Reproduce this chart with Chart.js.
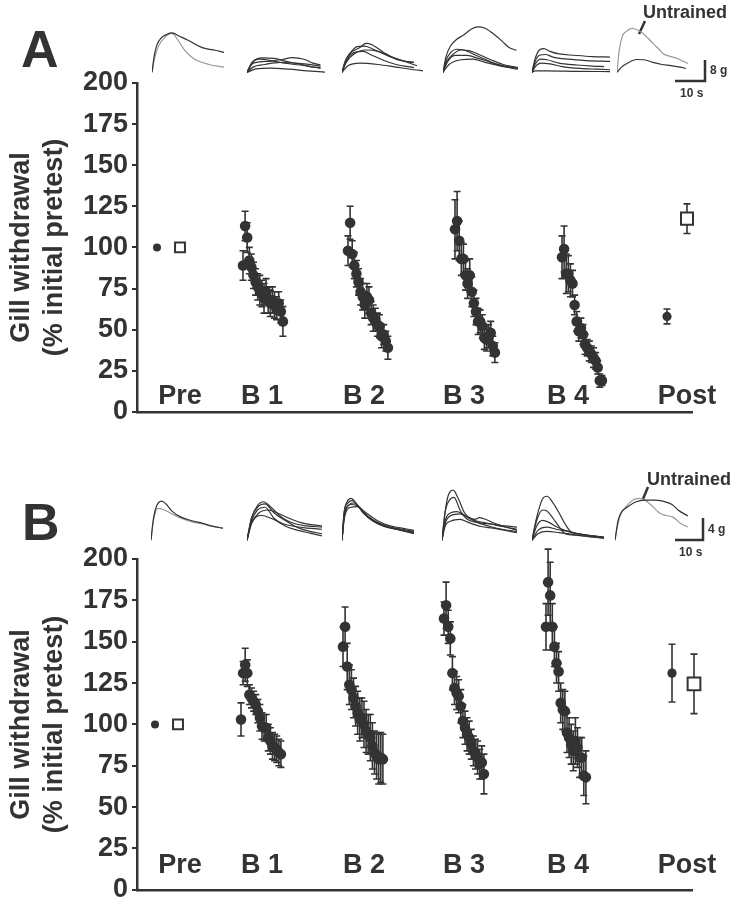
<!DOCTYPE html>
<html>
<head>
<meta charset="utf-8">
<script src="https://cdn.jsdelivr.net/npm/chart.js@4.4.1/dist/chart.umd.min.js"></script>
<style>
  body { margin: 0; background: #fff; }
  #fig { position: relative; width: 736px; height: 900px; overflow: hidden; font-family: "Liberation Sans", Arial, sans-serif; color: #333; }
  #fig canvas { position: absolute; }
  .txt { position: absolute; font-weight: bold; white-space: nowrap; line-height: 1; }
  .big { font-size: 52px; }
  .untr { font-size: 18px; }
  .bar { font-size: 12px; }
  svg { position: absolute; left: 0; top: 0; }
</style>
</head>
<body>
<div id="fig">
  <canvas id="panelA" width="736" height="432" style="left:0;top:0"></canvas>
  <canvas id="panelB" width="736" height="440" style="left:0;top:470px"></canvas>

  <div class="txt big" style="left:21px;top:23px">A</div>
  <div class="txt big" style="left:22px;top:496px">B</div>
  <div class="txt untr" style="left:643px;top:3px">Untrained</div>
  <div class="txt untr" style="left:647px;top:470px">Untrained</div>
  <div class="txt bar" style="left:710px;top:64px">8 g</div>
  <div class="txt bar" style="left:680px;top:87px">10 s</div>
  <div class="txt bar" style="left:708px;top:523px">4 g</div>
  <div class="txt bar" style="left:679px;top:546px">10 s</div>
  <svg width="736" height="900">
    <g stroke="#333" fill="none">
      <line x1="645" y1="21" x2="639" y2="34" stroke-width="2.5"/>
      <line x1="648" y1="487" x2="643" y2="499" stroke-width="2.5"/>
      <polyline points="675,81 705,81 705,60" stroke-width="2.5"/>
      <polyline points="675,540 703,540 703,518" stroke-width="2.5"/>
    </g>
  </svg>
</div>
<script>
// ---- y axis / x labels ----
var Y_TICK_STEP = 25;
var GROUP_LABELS = ['Pre', 'B 1', 'B 2', 'B 3', 'B 4', 'Post'];
var GROUP_LABEL_X = [21.5, 62.5, 113.5, 163.5, 215.5, 275];
var PRE_VALUE = 100;
var TRIAL_STEP = 1.05;

// ---- panel A : % initial pretest (mean, sem) ----
var A_B1 = [89, 113, 106, 92, 88, 83, 79, 76, 74, 72, 69, 73, 68, 66, 68, 65, 63, 66, 61, 55];
var A_B1_SEM = [9, 9, 9, 8, 8, 8, 8, 8, 9, 8, 9, 8, 8, 8, 8, 8, 7, 7, 7, 9];
var A_B2 = [98, 115, 96, 89, 84, 79, 73, 70, 65, 70, 68, 60, 57, 56, 53, 52, 46, 47, 43, 39];
var A_B2_SEM = [9, 10, 8, 8, 8, 8, 8, 8, 8, 8, 8, 7, 8, 7, 7, 7, 7, 6, 6, 7];
var A_B3 = [111, 116, 104, 93, 93, 83, 78, 83, 73, 66, 61, 55, 55, 52, 45, 44, 46, 48, 40, 36];
var A_B3_SEM = [18, 18, 12, 10, 9, 9, 9, 10, 9, 8, 8, 8, 7, 7, 7, 7, 7, 7, 6, 6];
var A_B4 = [94, 99, 84, 84, 80, 78, 65, 55, 49, 51, 47, 41, 39, 37, 35, 33, 31, 27, 19, 19];
var A_B4_SEM = [13, 14, 12, 11, 10, 8, 6, 6, 6, 6, 6, 6, 5, 6, 5, 6, 5, 4, 4, 3];
var A_POST = [58, 117.5];      // trained, untrained
var A_POST_SEM = [4.5, 9];
var A_BLOCK_START = [53, 105.5, 159, 212.5];
var A_PRE_X = [10, 21.5];
var A_POST_X = [265, 275];

// ---- panel B ----
var B_B1 = [103, 131, 136, 131, 118, 116, 114, 112, 108, 104, 99, 98, 98, 92, 90, 87, 86, 85, 83, 82];
var B_B1_SEM = [10, 7, 10, 8, 6, 6, 6, 6, 7, 8, 8, 8, 8, 8, 8, 8, 8, 8, 8, 8];
var B_B2 = [147, 159, 135, 124, 121, 116, 111, 107, 103, 104, 100, 96, 94, 92, 87, 83, 81, 79, 80, 79];
var B_B2_SEM = [12, 12, 14, 12, 12, 12, 12, 13, 13, 12, 14, 13, 12, 14, 14, 13, 14, 15, 15, 15];
var B_B3 = [164, 172, 159, 152, 131, 122, 119, 117, 111, 102, 98, 94, 92, 88, 84, 82, 80, 76, 77, 70];
var B_B3_SEM = [10, 14, 10, 10, 10, 10, 10, 10, 10, 10, 10, 10, 10, 9, 9, 9, 10, 9, 10, 12];
var B_B4 = [159, 186, 178, 159, 147, 137, 132, 113, 109, 108, 95, 92, 88, 84, 90, 86, 80, 80, 69, 68];
var B_B4_SEM = [14, 20, 20, 14, 12, 12, 12, 12, 12, 12, 12, 12, 12, 12, 14, 12, 12, 12, 12, 16];
var B_POST = [131, 124.5];
var B_POST_SEM = [17.5, 18];
var B_BLOCK_START = [52, 103, 153.5, 204.5];
var B_PRE_X = [9, 20.5];
var B_POST_X = [267.5, 278.5];

// ---- response traces [s, g] ----
var A_PRE_TRAINED = [[[0,0],[0.7,6],[1.5,10],[3,13],[5,14.5],[6.7,15],[9,13.8],[12,12.2],[16,9.8],[18,9],[21,8.4],[24,7.6]]];
var A_PRE_UNTRAINED = [[0,0],[0.8,5],[2,9.5],[4,13],[6.7,14.8],[8.5,12.5],[10.5,9],[12.5,6.5],[15,4.5],[19,3],[24,2]];
var A_B1_TRACES = [
  [[0,0],[1.5,3],[4,4],[8,4.3],[12,5],[15,5.6],[19,5],[22,3.5],[24.5,2.8]],
  [[0,0],[1.5,3.5],[4,5],[8,4.5],[12,3.6],[16,3],[20,2.5],[24.5,1.5]],
  [[0,0],[2,2],[6,3],[11,3.8],[16,3.5],[20,3.1],[24.5,2.4]],
  [[0,0],[2,4],[5,5.5],[9,5.3],[13,4.2],[17,3.3],[21,2.2],[24.5,1.8]],
  [[0,0],[3,1.3],[8,1.6],[14,1.2],[20,0.6],[26,0.1]]
];
var A_B2_TRACES = [
  [[0,0],[1,4],[2.5,7],[6,9.5],[8,11],[10,10.5],[14,7.5],[18,5],[22,4],[24,3.8]],
  [[0,0],[1,4],[2.5,7],[5,9.8],[7.5,10],[11,8.5],[15,6.5],[20,4.5],[25,2.5]],
  [[0,0],[1.5,4],[4,7],[8,8.5],[12,8],[16,6],[20,4.5],[24,3.8]],
  [[0,0],[1.5,4.5],[4,7.5],[7,8],[10,6.5],[14,4.5],[18,3],[24,1.8]],
  [[0,0],[2,2.5],[6,3.5],[12,3],[18,2],[24,1],[27,0.6]]
];
var A_B3_TRACES = [
  [[0,0],[1,6],[2.5,10],[4.5,12.5],[7,14.3],[9.5,16.5],[11.5,17.3],[14,16.8],[17,14.5],[20,11.5],[22,9.5],[24.5,8.4]],
  [[0,0],[1,4.5],[2.5,7.5],[4.5,8.8],[7,8.5],[10,7],[14,5],[18,3],[22,2],[25,1.5]],
  [[0,0],[1.2,4],[3,6.5],[6,8.5],[9,8.2],[12,6.8],[16,4.8],[20,3],[25,1.8]],
  [[0,0],[1.5,4],[4,6.5],[8,6.5],[12,5.2],[16,3.8],[20,2.5],[24,1.8]],
  [[0,0],[2,3],[6,4.8],[10,5],[14,3.8],[19,2.5],[25,1.2]]
];
var A_B4_TRACES = [
  [[0,0],[1,5],[2.5,8.5],[4,9],[6,8],[9,7],[14,6.5],[20,6],[26,5.8]],
  [[0,0],[1,4],[2.5,6.5],[4.5,6.8],[7,5.8],[12,5],[18,4.5],[26,4.2]],
  [[0,0],[1,3],[3,5],[5,4.8],[9,3.5],[15,2.8],[20,2.4],[24,2.2]],
  [[0,0],[1,2],[3,3.5],[6,3.2],[10,2.2],[16,1.5],[22,1.2],[26,1]],
  [[0,0],[1,0.6],[5,0.6],[15,0.4],[26,0.3]]
];
var A_POST_TRAINED = [[[0,0],[1.5,2],[3.5,3.5],[6.5,4.9],[9,4.8],[12,3.8],[15,3],[18,2.6],[21,2],[23,1.5]]];
var A_POST_UNTRAINED = [[0,0],[0.7,8],[1.7,13.5],[3,15.5],[5.3,16.7],[7,16],[8.7,14.8],[10.5,12.8],[12,11],[14,8.8],[15.3,7.2],[18,6],[20,5.3],[22,4.2],[23.7,3.4]];

var B_PRE_TRAINED = [[[0,0],[0.7,3.5],[1.7,6],[3.5,7.1],[5,6.6],[7,5.3],[10,4.2],[14,3.5],[17,3.1],[20,2.6],[24,2.2]]];
var B_PRE_UNTRAINED = [[0,0],[0.8,3.5],[2.3,5.8],[4,5.6],[7,4.8],[10,4],[14,3.3],[17,3],[20,2.6],[24,2.2]];
var B_B1_TRACES = [
  [[0,0],[1.5,4],[3.5,6.3],[5.5,7],[8,6],[12,4],[16,3],[20,2.6],[25,2.4]],
  [[0,0],[1.5,4],[3.5,6],[6,6.6],[9,5],[13,3.5],[17,2.3],[21,1.6],[25,1.2]],
  [[0,0],[1.5,3.5],[3.5,5.5],[6,6],[9,4],[13,2.5],[17,1.8],[21,1.3],[25,0.8]],
  [[0,0],[1.5,3],[4,5],[7,5.5],[10,5],[14,4],[18,3.2],[22,2.8],[25,2.6]],
  [[0,0],[1.5,3.2],[5,4.5],[8,4],[12,3],[16,2.5],[20,2.2],[25,2]]
];
var B_B2_TRACES = [
  [[0,0],[0.7,5],[1.7,7],[3,7.6],[5,6.5],[8,4.5],[12,3],[16,2.3],[20,1.8],[24,1.5]],
  [[0,0],[0.7,5],[2,6.8],[3.5,7.2],[6,5.8],[9,4.2],[13,2.8],[17,2.2],[21,1.7],[24,1.3]],
  [[0,0],[0.8,4.5],[2.5,6.5],[4,6.8],[7,5],[10,3.6],[14,2.5],[18,2],[24,1.2]],
  [[0,0],[0.8,4.5],[3,6.5],[5,6.3],[8,5],[12,3.5],[16,2.6],[20,2.2],[24,1.8]],
  [[0,0],[0.8,4],[3,6],[5,6.1],[8,4.6],[12,3.2],[16,2.4],[20,2],[24,1.6]]
];
var B_B3_TRACES = [
  [[0,0],[1,5],[2,8],[3.7,9.1],[5.5,7.5],[7.5,5],[10,3.8],[14,3.2],[18,2.8],[25,2.4]],
  [[0,0],[1,5],[2.5,7.3],[4,7.8],[6,5.5],[8,4],[12,3.2],[16,3],[20,2.5],[25,2]],
  [[0,0],[1,3.5],[3,5],[5,5.2],[8,4.4],[11,3.8],[12.5,4.1],[14,3.9],[18,3],[25,1.8]],
  [[0,0],[1,3],[3,4.5],[6,4.8],[9,4],[12,3.2],[16,2.5],[20,2],[25,1.6]],
  [[0,0],[1,2.5],[3,3.5],[6,3.8],[9,3.2],[13,2.5],[17,2.2],[25,1.4]]
];
var B_B4_TRACES = [
  [[0,0],[1.5,4],[3.5,7.5],[5,8],[7,6.8],[9,5],[11,3],[13,1.5],[15,1.2],[20,0.8],[24,0.6]],
  [[0,0],[1.5,3.5],[3.5,5.5],[5,5.3],[7,4],[9,2.5],[11,1.2],[15,0.9],[20,0.6],[24,0.4]],
  [[0,0],[1.5,2.5],[3.5,3.6],[5.5,3.3],[8,2.5],[11,1.8],[15,1.2],[20,0.8],[24,0.5]],
  [[0,0],[2,1.8],[5,2.4],[8,2],[12,1.6],[16,1.1],[20,0.8],[24,0.5]],
  [[0,0],[2,1.2],[5,1.6],[9,1.4],[13,1.1],[17,0.8],[24,0.4]]
];
var B_POST_TRAINED = [[[0,0],[1,3.5],[2,5],[4,6],[7,7],[10,7.3],[13,7.3],[16,7.1],[19,6.5],[21,5.5],[24.3,4.4]]];
var B_POST_UNTRAINED = [[0,0],[1,3],[2,4.8],[4,6.3],[6,7.3],[8,7.6],[10,7.3],[12,6.4],[15,4.9],[17,4.5],[19.3,4.2],[22,3],[24.3,2.4]];

var INK = '#333';
var FONT = '"Liberation Sans", Arial, sans-serif';

// error bars drawn through the chart scales
var errorBars = {
  id: 'errorBars',
  beforeDatasetsDraw: function (chart) {
    var ctx = chart.ctx, x = chart.scales.x, y = chart.scales.y;
    chart.data.datasets.forEach(function (ds) {
      if (!ds.errors) return;
      ctx.save();
      ctx.strokeStyle = INK;
      ctx.lineWidth = 1.6;
      ds.data.forEach(function (p, j) {
        var e = ds.errors[j];
        if (!e) return;
        var px = x.getPixelForValue(p.x);
        var top = y.getPixelForValue(p.y + e), bot = y.getPixelForValue(p.y - e);
        ctx.beginPath();
        ctx.moveTo(px, top); ctx.lineTo(px, bot);
        ctx.moveTo(px - 3.5, top); ctx.lineTo(px + 3.5, top);
        ctx.moveTo(px - 3.5, bot); ctx.lineTo(px + 3.5, bot);
        ctx.stroke();
      });
      ctx.restore();
    });
  }
};

// group names sit inside the plot, just above the x axis
var groupLabels = {
  id: 'groupLabels',
  beforeDatasetsDraw: function (chart, args, opts) {
    var ctx = chart.ctx, x = chart.scales.x;
    ctx.save();
    ctx.fillStyle = INK;
    ctx.font = 'bold 27px ' + FONT;
    ctx.textAlign = 'center';
    ctx.textBaseline = 'alphabetic';
    GROUP_LABELS.forEach(function (t, i) {
      ctx.fillText(t, x.getPixelForValue(GROUP_LABEL_X[i]), x.top - opts.lift);
    });
    ctx.restore();
  }
};

function drawPanel(id, p) {
  var trained = [{x: p.preX[0], y: PRE_VALUE}], trainedErr = [0], radii = [4];
  p.blocks.forEach(function (vals, b) {
    vals.forEach(function (v, i) {
      trained.push({x: p.blockStart[b] + i * TRIAL_STEP, y: v});
      trainedErr.push(p.sems[b][i]);
      radii.push(5.3);
    });
  });
  trained.push({x: p.postX[0], y: p.post[0]});
  trainedErr.push(p.postSem[0]);
  radii.push(4.6);

  var untrained = [{x: p.preX[1], y: PRE_VALUE}, {x: p.postX[1], y: p.post[1]}];

  new Chart(document.getElementById(id), {
    type: 'scatter',
    data: {
      datasets: [{
        data: untrained,
        errors: [0, p.postSem[1]],
        pointStyle: 'rect',
        pointRadius: [7, p.sqR],
        pointBorderWidth: 2,
        borderColor: INK,
        pointBackgroundColor: '#fff',
        clip: false
      }, {
        data: trained,
        errors: trainedErr,
        pointRadius: radii,
        pointBorderWidth: 0,
        pointBackgroundColor: INK,
        borderColor: INK,
        clip: false
      }]
    },
    options: {
      responsive: false,
      animation: false,
      events: [],
      layout: { padding: { top: p.padTop, right: 44, left: 0, bottom: 0 } },
      plugins: {
        legend: { display: false },
        tooltip: { enabled: false },
        groupLabels: { lift: p.labelLift }
      },
      scales: {
        x: {
          type: 'linear', min: 0, max: 277.5,
          afterFit: function (s) { s.height = 17; },
          ticks: { display: false },
          grid: { display: false, drawTicks: false },
          border: { color: INK, width: 2.5 }
        },
        y: {
          min: 0, max: 200,
          afterFit: function (s) { s.width = 137; },
          ticks: { stepSize: Y_TICK_STEP, padding: 4, color: INK, font: { family: FONT, size: 27, weight: 'bold' } },
          grid: { drawOnChartArea: false, drawTicks: true, tickLength: 5, color: INK, lineWidth: 2 },
          border: { color: INK, width: 2.5 },
          title: {
            display: true,
            text: ['Gill withdrawal', '(% initial pretest)'],
            color: INK,
            font: { family: FONT, size: 27, weight: 'bold', lineHeight: 1.22 },
            padding: { top: 5, bottom: 0 }
          }
        }
      }
    },
    plugins: [errorBars, groupLabels]
  });
}

drawPanel('panelA', {
  blocks: [A_B1, A_B2, A_B3, A_B4], sems: [A_B1_SEM, A_B2_SEM, A_B3_SEM, A_B4_SEM],
  blockStart: A_BLOCK_START, preX: A_PRE_X, postX: A_POST_X, post: A_POST, postSem: A_POST_SEM,
  padTop: 83, labelLift: 8, sqR: 8.5
});
drawPanel('panelB', {
  blocks: [B_B1, B_B2, B_B3, B_B4], sems: [B_B1_SEM, B_B2_SEM, B_B3_SEM, B_B4_SEM],
  blockStart: B_BLOCK_START, preX: B_PRE_X, postX: B_POST_X, post: B_POST, postSem: B_POST_SEM,
  padTop: 89, labelLift: 17, sqR: 9
});

// small trace insets, one chart per group
function drawTraces(left, top, height, pxPerG, minG, dark, grey) {
  var c = document.createElement('canvas');
  c.width = 85; c.height = height;
  c.style.left = left + 'px'; c.style.top = top + 'px';
  document.getElementById('fig').appendChild(c);
  var sets = dark.map(function (tr) {
    return { data: tr.map(function (q) { return {x: q[0], y: q[1]}; }), borderColor: INK, borderWidth: 1.2 };
  });
  if (grey) sets.push({ data: grey.map(function (q) { return {x: q[0], y: q[1]}; }), borderColor: '#999', borderWidth: 1.2 });
  sets.forEach(function (s) { s.pointRadius = 0; s.cubicInterpolationMode = 'monotone'; s.fill = false; });
  new Chart(c, {
    type: 'line',
    data: { datasets: sets },
    options: {
      responsive: false, animation: false, events: [],
      layout: { padding: 0 },
      plugins: { legend: { display: false }, tooltip: { enabled: false } },
      scales: {
        x: { type: 'linear', display: false, min: 0, max: 85 / 3 },
        y: { display: false, min: minG, max: minG + height / pxPerG }
      }
    }
  });
}

var A_TRACE_LEFT = [152, 247, 342, 443, 532, 617];
var B_TRACE_LEFT = [151, 247, 342, 442, 532, 615];
var aGroups = [[A_PRE_TRAINED, A_PRE_UNTRAINED], [A_B1_TRACES], [A_B2_TRACES], [A_B3_TRACES], [A_B4_TRACES], [A_POST_TRAINED, A_POST_UNTRAINED]];
var bGroups = [[B_PRE_TRAINED, B_PRE_UNTRAINED], [B_B1_TRACES], [B_B2_TRACES], [B_B3_TRACES], [B_B4_TRACES], [B_POST_TRAINED, B_POST_UNTRAINED]];
aGroups.forEach(function (g, i) { drawTraces(A_TRACE_LEFT[i], 22, 53, 2.63, -1, g[0], g[1]); });
bGroups.forEach(function (g, i) { drawTraces(B_TRACE_LEFT[i], 487, 56, 5.5, -0.5, g[0], g[1]); });
</script>
</body>
</html>
